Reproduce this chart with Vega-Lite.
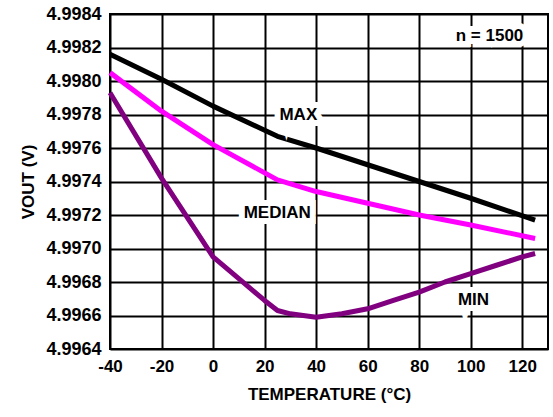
{
  "$schema": "https://vega.github.io/schema/vega-lite/v6.json",
  "width": 438,
  "height": 335,
  "autosize": {"type": "none"},
  "padding": {"left": 110, "top": 14, "right": 5, "bottom": 68},
  "config": {
    "font": "Liberation Sans",
    "view": {"stroke": "black", "strokeWidth": 2},
    "axis": {
      "labelFont": "Liberation Sans", "labelFontSize": 17, "labelFontWeight": "bold", "labelColor": "black",
      "titleFont": "Liberation Sans", "titleFontSize": 17, "titleFontWeight": "bold", "titleColor": "black",
      "gridColor": "black", "gridWidth": 2, "gridOpacity": 1,
      "domain": false, "ticks": false, "labelPadding": 9,
      "labelOverlap": false, "labelFlush": false, "labelBound": false
    }
  },
  "datasets": {
    "curves": [
      {"t": -40, "v": 4.99816, "s": "MAX"},
      {"t": -20, "v": 4.99801, "s": "MAX"},
      {"t": 0, "v": 4.99785, "s": "MAX"},
      {"t": 25, "v": 4.99767, "s": "MAX"},
      {"t": 40, "v": 4.9976, "s": "MAX"},
      {"t": 60, "v": 4.9975, "s": "MAX"},
      {"t": 80, "v": 4.9974, "s": "MAX"},
      {"t": 100, "v": 4.9973, "s": "MAX"},
      {"t": 125, "v": 4.99717, "s": "MAX"},
      {"t": -40, "v": 4.99805, "s": "MEDIAN"},
      {"t": -20, "v": 4.99782, "s": "MEDIAN"},
      {"t": 0, "v": 4.99762, "s": "MEDIAN"},
      {"t": 25, "v": 4.99741, "s": "MEDIAN"},
      {"t": 40, "v": 4.99734, "s": "MEDIAN"},
      {"t": 60, "v": 4.99727, "s": "MEDIAN"},
      {"t": 80, "v": 4.9972, "s": "MEDIAN"},
      {"t": 100, "v": 4.99714, "s": "MEDIAN"},
      {"t": 125, "v": 4.99706, "s": "MEDIAN"},
      {"t": -40, "v": 4.99793, "s": "MIN"},
      {"t": -20, "v": 4.99742, "s": "MIN"},
      {"t": 0, "v": 4.99695, "s": "MIN"},
      {"t": 10, "v": 4.99682, "s": "MIN"},
      {"t": 20, "v": 4.99669, "s": "MIN"},
      {"t": 25, "v": 4.99663, "s": "MIN"},
      {"t": 30, "v": 4.99661, "s": "MIN"},
      {"t": 40, "v": 4.99659, "s": "MIN"},
      {"t": 50, "v": 4.99661, "s": "MIN"},
      {"t": 60, "v": 4.99664, "s": "MIN"},
      {"t": 70, "v": 4.99669, "s": "MIN"},
      {"t": 80, "v": 4.99674, "s": "MIN"},
      {"t": 90, "v": 4.9968, "s": "MIN"},
      {"t": 100, "v": 4.99685, "s": "MIN"},
      {"t": 110, "v": 4.9969, "s": "MIN"},
      {"t": 120, "v": 4.99695, "s": "MIN"},
      {"t": 125, "v": 4.99697, "s": "MIN"}
    ],
    "labels": [
      {"t": 33.1, "v": 4.9978, "label": "MAX"},
      {"t": 24.9, "v": 4.99721, "label": "MEDIAN"},
      {"t": 101.1, "v": 4.99669, "label": "MIN"},
      {"t": 107.3, "v": 4.99827, "label": "n = 1500"}
    ]
  },
  "layer": [
    {
      "data": {"name": "curves"},
      "mark": {"type": "line", "strokeWidth": 5, "strokeCap": "butt", "strokeJoin": "round"},
      "encoding": {
        "x": {
          "field": "t", "type": "quantitative",
          "scale": {"domain": [-40, 130], "nice": false, "zero": false},
          "axis": {"values": [-40, -20, 0, 20, 40, 60, 80, 100, 120], "tickCount": 20, "labelExpr": "(datum.value < 0 ? '-' : '') + abs(datum.value)", "title": "TEMPERATURE (°C)", "titlePadding": 12}
        },
        "y": {
          "field": "v", "type": "quantitative",
          "scale": {"domain": [4.9964, 4.9984], "nice": false, "zero": false},
          "axis": {"values": [4.9964, 4.9966, 4.9968, 4.997, 4.9972, 4.9974, 4.9976, 4.9978, 4.998, 4.9982, 4.9984], "tickCount": 20, "format": ".4f", "labelFontSize": 18, "title": "VOUT (V)", "titlePadding": 8}
        },
        "color": {
          "field": "s", "type": "nominal", "legend": null,
          "scale": {"domain": ["MAX", "MEDIAN", "MIN"], "range": ["#000000", "#ff00ff", "#800080"]}
        }
      }
    },
    {
      "data": {"name": "labels"},
      "mark": {"type": "text", "font": "Liberation Sans", "fontWeight": "bold", "fontSize": 17, "stroke": "white", "strokeWidth": 12, "strokeJoin": "miter", "fill": "white"},
      "encoding": {
        "x": {"field": "t", "type": "quantitative"},
        "y": {"field": "v", "type": "quantitative"},
        "text": {"field": "label"}
      }
    },
    {
      "data": {"name": "labels"},
      "mark": {"type": "text", "font": "Liberation Sans", "fontWeight": "bold", "fontSize": 17, "fill": "black"},
      "encoding": {
        "x": {"field": "t", "type": "quantitative"},
        "y": {"field": "v", "type": "quantitative"},
        "text": {"field": "label"}
      }
    }
  ]
}
